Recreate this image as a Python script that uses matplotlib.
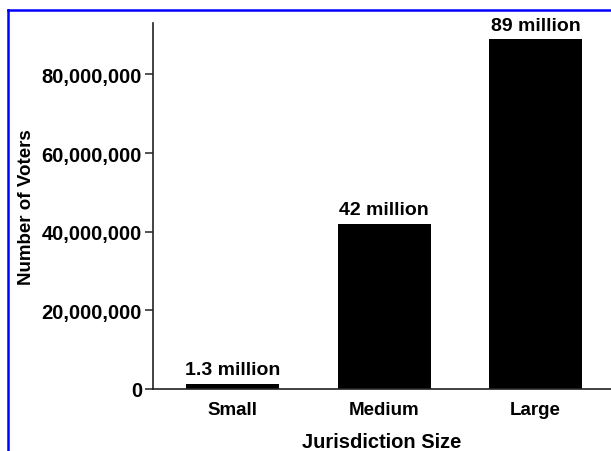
import matplotlib
matplotlib.use("Agg")
import matplotlib.pyplot as plt
from matplotlib.lines import Line2D
from matplotlib.ticker import FuncFormatter

sizes = ["Small", "Medium", "Large"]
voters = [1.3e6, 42e6, 89e6]
bar_labels = ["1.3 million", "42 million", "89 million"]
yticks = [0, 20e6, 40e6, 60e6, 80e6]

plt.rcParams["font.family"] = ["Liberation Sans", "DejaVu Sans"]
plt.rcParams["font.weight"] = "bold"
plt.rcParams["axes.labelweight"] = "bold"

fig = plt.figure(figsize=(6.11, 4.52), dpi=100)
ax = fig.add_axes([0.2504, 0.1372, 0.7496, 0.8097])

x = range(len(sizes))
ax.bar(x, voters, width=0.614, color="black")
for i, v in enumerate(voters):
    ax.text(i, v + 1.4e6, bar_labels[i], ha="center", va="bottom", fontsize=14)

ax.set_xlim(-0.525, 2.498)
ax.set_ylim(0, 93.1e6)
ax.set_yticks(yticks)
ax.yaxis.set_major_formatter(FuncFormatter(lambda v, p: "{:,.0f}".format(v)))
ax.set_xticks(list(x))
ax.set_xticklabels(sizes)
ax.tick_params(axis="y", labelsize=14.5, length=6, width=1.1, color="#222222", pad=2)
ax.tick_params(axis="x", labelsize=13.5, length=0, pad=9)

for s in ["top", "right"]:
    ax.spines[s].set_visible(False)
ax.spines["left"].set_linewidth(1.2)
ax.spines["bottom"].set_linewidth(1.2)
ax.spines["left"].set_color("#222222")
ax.spines["bottom"].set_color("#222222")

ax.set_ylabel("Number of Voters", fontsize=13.5, labelpad=5)
ax.set_xlabel("Jurisdiction Size", fontsize=14.5, labelpad=10)

# blue frame on the top and left edges
fig.add_artist(Line2D([8 / 611, 8 / 611], [0, 1 - 11 / 452], color="#0000ff", lw=1.8))
fig.add_artist(Line2D([8 / 611, 1], [1 - 11 / 452, 1 - 11 / 452], color="#0000ff", lw=1.8))

fig.savefig("out.png", dpi=100)
